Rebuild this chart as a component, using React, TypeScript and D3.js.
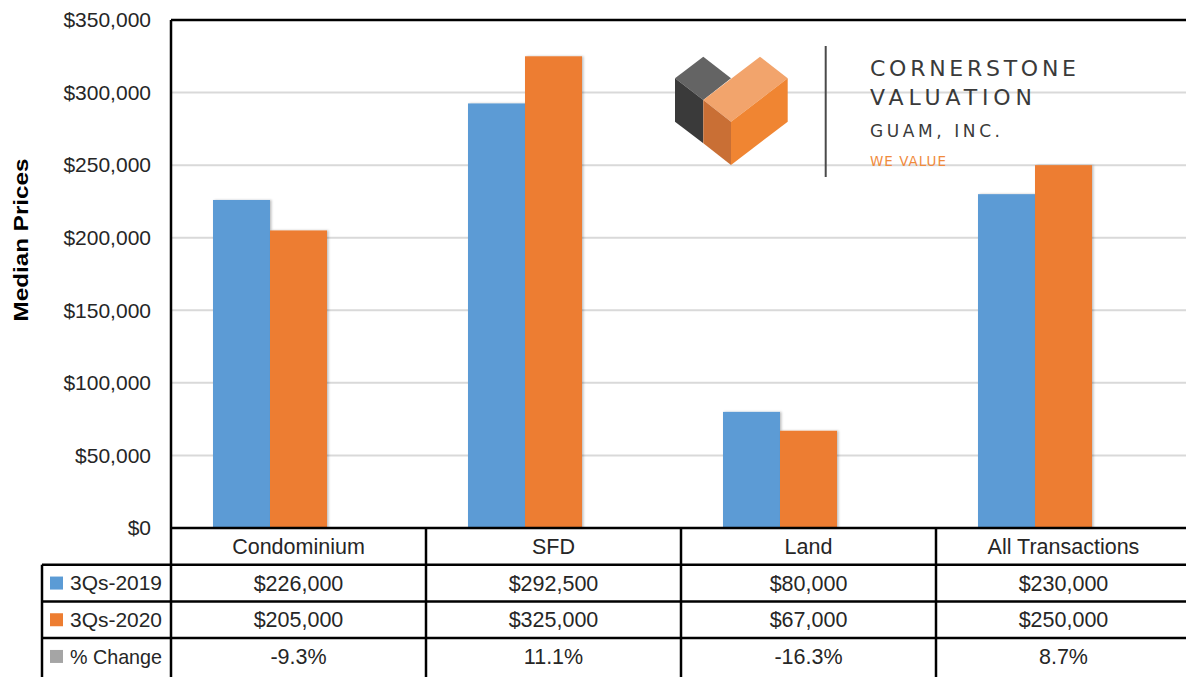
import React from "react";
import * as d3 from "d3";

const categories = ["Condominium", "SFD", "Land", "All Transactions"];
const seriesNames = ["3Qs-2019", "3Qs-2020"];
const values2019 = [226000, 292500, 80000, 230000];
const values2020 = [205000, 325000, 67000, 250000];
const pctChange = ["-9.3%", "11.1%", "-16.3%", "8.7%"];
const yTicks = [0, 50000, 100000, 150000, 200000, 250000, 300000, 350000];
const seriesColors = ["#5b9bd5", "#ed7d31", "#a5a5a5"];

const W = 1186;
const H = 677;
const plotLeft = 171;
const plotRight = 1191;
const plotTop = 20;
const plotBottom = 528;
const rowH = 36.7;
const legendLeft = 42;
const FONT = "'Liberation Sans', Arial, sans-serif";
const LOGO_FONT = "'DejaVu Sans', sans-serif";

export default function App() {
  const x0 = d3.scaleBand<string>().domain(categories).range([plotLeft, plotRight]).paddingInner(0).paddingOuter(0);
  const x1 = d3.scaleBand<string>().domain(seriesNames).range([42, 156]).paddingInner(0).paddingOuter(0);
  const y = d3.scaleLinear().domain([0, 350000]).range([plotBottom, plotTop]);
  const fmt = (v: number) => "$" + d3.format(",")(v);
  const seriesVals = [values2019, values2020];

  const rowLabels = [...seriesNames, "% Change"];
  const rowTexts = [values2019.map(fmt), values2020.map(fmt), pctChange];

  return (
    <svg width={W} height={H} style={{ position: "absolute", left: 0, top: 0, background: "#fff" }}>
      <defs>
        <filter id="sh" x="-10%" y="-10%" width="130%" height="120%">
          <feDropShadow dx="1.5" dy="0" stdDeviation="1.2" floodColor="#000" floodOpacity="0.25" />
        </filter>
      </defs>
      {/* gridlines */}
      {yTicks.map((t) => (
        <line key={"g" + t} x1={plotLeft} x2={plotRight} y1={y(t)} y2={y(t)} stroke="#d9d9d9" strokeWidth={2} />
      ))}
      {/* tick labels */}
      {yTicks.map((t) => (
        <text key={"t" + t} x={151} y={y(t)} dy="0.35em" textAnchor="end" fontFamily={FONT} fontSize={21} fill="#262626">
          {d3.format("$,")(t)}
        </text>
      ))}
      {/* y label */}
      <text
        transform={`translate(28,240) rotate(-90)`}
        textAnchor="middle"
        fontFamily={FONT}
        fontWeight="bold"
        fontSize={21}
        textLength={163}
        lengthAdjust="spacingAndGlyphs"
        fill="#000"
      >
        Median Prices
      </text>

      {/* logo */}
      <g>
        <polygon points="675,78.3 703.3,56.7 731,78.3 703.3,100" fill="#646464" />
        <polygon points="675,78.3 703.3,100 703.3,143.3 675,121.7" fill="#3a3a3a" />
        <polygon points="703.3,100 760,56.7 787.7,78.3 731,121.7" fill="#f2a46c" />
        <polygon points="703.3,100 731,121.7 731,165 703.3,143.3" fill="#c96f35" />
        <polygon points="731,121.7 787.7,78.3 787.7,121.7 731,165" fill="#f08532" />
        <line x1={825.7} x2={825.7} y1={46} y2={177} stroke="#4a4a4a" strokeWidth={2} />
        <text x={870} y={76} fontFamily={LOGO_FONT} fontSize={22} fill="#3a3a3a" textLength={206} lengthAdjust="spacing">CORNERSTONE</text>
        <text x={870} y={105} fontFamily={LOGO_FONT} fontSize={22} fill="#3a3a3a" textLength={162} lengthAdjust="spacing">VALUATION</text>
        <text x={870} y={137} fontFamily={LOGO_FONT} fontSize={17} fill="#3a3a3a" textLength={130} lengthAdjust="spacing">GUAM, INC.</text>
        <text x={870} y={166} fontFamily={LOGO_FONT} fontSize={13.5} fill="#f08a3c" textLength={76} lengthAdjust="spacing">WE VALUE</text>
      </g>

      {/* bars */}
      {categories.map((c, i) =>
        seriesNames.map((s, j) => (
          <rect
            key={c + s}
            x={(x0(c) ?? 0) + (x1(s) ?? 0)}
            y={y(seriesVals[j][i])}
            width={x1.bandwidth()}
            height={plotBottom - y(seriesVals[j][i])}
            fill={seriesColors[j]}
            filter="url(#sh)"
          />
        ))
      )}

      {/* plot border top & left */}
      <line x1={plotLeft} x2={plotRight} y1={plotTop} y2={plotTop} stroke="#000" strokeWidth={2.5} />
      <line x1={plotLeft} x2={plotLeft} y1={plotTop} y2={H + 5} stroke="#000" strokeWidth={2.5} />
      {/* x axis line */}
      <line x1={plotLeft} x2={plotRight} y1={plotBottom} y2={plotBottom} stroke="#000" strokeWidth={2.5} />

      {/* data table */}
      {categories.map((c, i) => (
        <g key={"col" + c}>
          <line x1={(x0(c) ?? 0) + x0.bandwidth()} x2={(x0(c) ?? 0) + x0.bandwidth()} y1={plotBottom} y2={H + 5} stroke="#000" strokeWidth={2.5} />
          <text x={(x0(c) ?? 0) + x0.bandwidth() / 2} y={plotBottom + rowH / 2} dy="0.35em" textAnchor="middle" fontFamily={FONT} fontSize={21.5} fill="#262626">
            {c}
          </text>
          {rowTexts.map((r, k) => (
            <text
              key={"v" + k}
              x={(x0(c) ?? 0) + x0.bandwidth() / 2}
              y={plotBottom + rowH * (k + 1) + rowH / 2}
              dy="0.35em"
              textAnchor="middle"
              fontFamily={FONT}
              fontSize={21.5}
              fill="#262626"
            >
              {r[i]}
            </text>
          ))}
        </g>
      ))}
      {rowLabels.map((l, k) => {
        const top = plotBottom + rowH * (k + 1);
        return (
          <g key={"row" + l}>
            <line x1={legendLeft} x2={plotRight} y1={top} y2={top} stroke="#000" strokeWidth={2.5} />
            <rect x={50} y={top + rowH / 2 - 6.5} width={13} height={13} fill={seriesColors[k]} />
            <text x={70} y={top + rowH / 2} dy="0.35em" fontFamily={FONT} fontSize={21} fill="#262626" textLength={92} lengthAdjust="spacingAndGlyphs">
              {l}
            </text>
          </g>
        );
      })}
      <line x1={legendLeft} x2={legendLeft} y1={plotBottom + rowH} y2={H + 5} stroke="#000" strokeWidth={2.5} />
    </svg>
  );
}
